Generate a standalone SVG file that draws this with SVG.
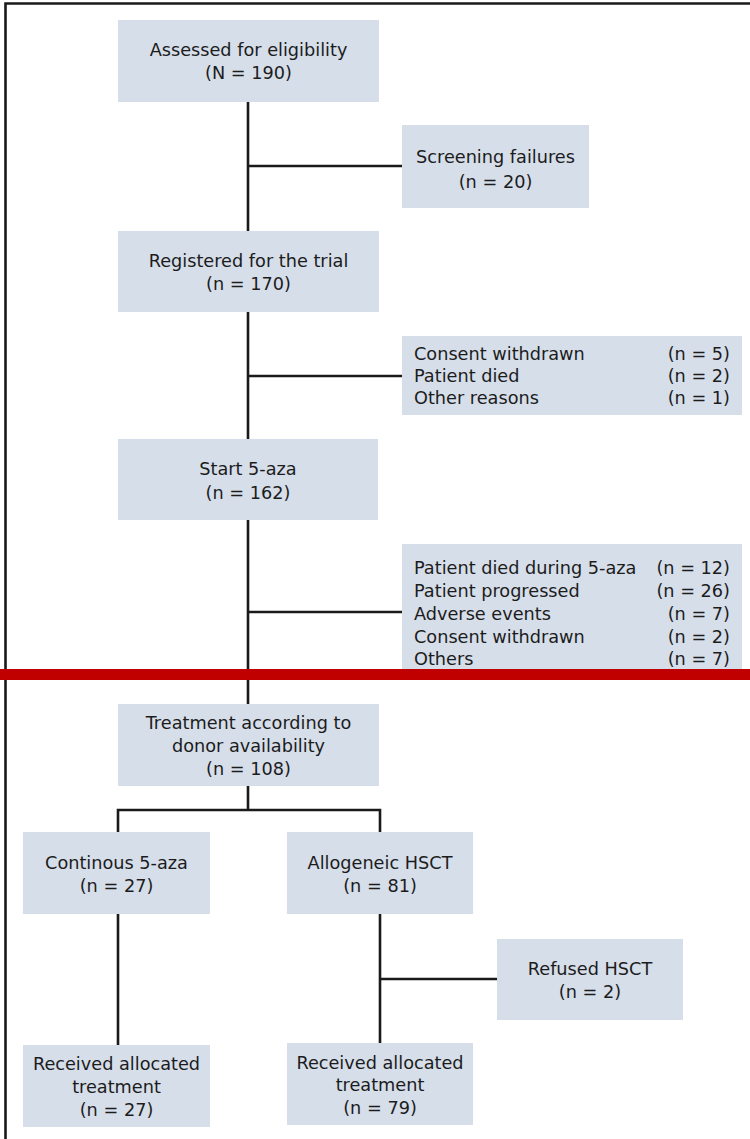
<svg xmlns="http://www.w3.org/2000/svg" width="750" height="1139" viewBox="0 0 750 1139">
  <style>
    .box { fill: #d6deea; }
    .t { font-family: "DejaVu Sans", "Liberation Sans", sans-serif; font-size: 17.7px; fill: #1c1c1c; }
    .c { text-anchor: middle; }
    .r { text-anchor: end; }
    .ln { stroke: #1a1a1a; stroke-width: 2.6; fill: none; }
  </style>
  <rect width="750" height="1139" fill="#ffffff"/>
  <!-- outer frame (top and left edges) -->
  <path class="ln" d="M5.5 1139 V3.5 H750" stroke-width="2.5"/>

  <g id="connectors">
    <path class="ln" d="M248 102 V231 M248 166 H402"/>
    <path class="ln" d="M248 312 V439 M248 376 H402"/>
    <path class="ln" d="M248 520 V704 M248 612 H402"/>
    <path class="ln" d="M248 786 V810 M118 832 V810 H380 V832"/>
    <path class="ln" d="M118 914 V1045"/>
    <path class="ln" d="M380 914 V1043 M380 979 H497"/>
  </g>

  <g id="assessed">
    <rect class="box" x="118" y="20" width="261" height="82"/>
    <text class="t c" x="248.5" y="56">Assessed for eligibility</text>
    <text class="t c" x="248.5" y="79">(N = 190)</text>
  </g>
  <g id="screening">
    <rect class="box" x="402" y="125" width="187" height="83"/>
    <text class="t c" x="495.5" y="162.5">Screening failures</text>
    <text class="t c" x="495.5" y="187.5">(n = 20)</text>
  </g>
  <g id="registered">
    <rect class="box" x="118" y="231" width="261" height="81"/>
    <text class="t c" x="248.5" y="266.5">Registered for the trial</text>
    <text class="t c" x="248.5" y="289.5">(n = 170)</text>
  </g>
  <g id="excluded-before-start">
    <rect class="box" x="402" y="336" width="340" height="79"/>
    <text class="t" x="414" y="359.5">Consent withdrawn</text>
    <text class="t r" x="730" y="359.5">(n = 5)</text>
    <text class="t" x="414" y="381.5">Patient died</text>
    <text class="t r" x="730" y="381.5">(n = 2)</text>
    <text class="t" x="414" y="403.5">Other reasons</text>
    <text class="t r" x="730" y="403.5">(n = 1)</text>
  </g>
  <g id="start-aza">
    <rect class="box" x="118" y="439" width="260" height="81"/>
    <text class="t c" x="248" y="474.5">Start 5-aza</text>
    <text class="t c" x="248" y="498.5">(n = 162)</text>
  </g>
  <g id="excluded-during-aza">
    <rect class="box" x="402" y="544" width="340" height="128"/>
    <text class="t" x="414" y="573.5">Patient died during 5-aza</text>
    <text class="t r" x="730" y="573.5">(n = 12)</text>
    <text class="t" x="414" y="596.5">Patient progressed</text>
    <text class="t r" x="730" y="596.5">(n = 26)</text>
    <text class="t" x="414" y="619.5">Adverse events</text>
    <text class="t r" x="730" y="619.5">(n = 7)</text>
    <text class="t" x="414" y="642.5">Consent withdrawn</text>
    <text class="t r" x="730" y="642.5">(n = 2)</text>
    <text class="t" x="414" y="664.5">Others</text>
    <text class="t r" x="730" y="664.5">(n = 7)</text>
  </g>

  <!-- red divider bar -->
  <rect x="0" y="669" width="750" height="11" fill="#c00000"/>

  <g id="treatment">
    <rect class="box" x="118" y="704" width="261" height="82"/>
    <text class="t c" x="248.5" y="728.5">Treatment according to</text>
    <text class="t c" x="248.5" y="751.5">donor availability</text>
    <text class="t c" x="248.5" y="774.5">(n = 108)</text>
  </g>
  <g id="continuous-aza">
    <rect class="box" x="23" y="832" width="187" height="82"/>
    <text class="t c" x="116.5" y="868.5">Continous 5-aza</text>
    <text class="t c" x="116.5" y="891.5">(n = 27)</text>
  </g>
  <g id="allo-hsct">
    <rect class="box" x="287" y="832" width="186" height="82"/>
    <text class="t c" x="380" y="868.5">Allogeneic HSCT</text>
    <text class="t c" x="380" y="891.5">(n = 81)</text>
  </g>
  <g id="refused-hsct">
    <rect class="box" x="497" y="939" width="186" height="81"/>
    <text class="t c" x="590" y="974.5">Refused HSCT</text>
    <text class="t c" x="590" y="997.5">(n = 2)</text>
  </g>
  <g id="received-aza">
    <rect class="box" x="23" y="1045" width="187" height="82"/>
    <text class="t c" x="116.5" y="1069.5">Received allocated</text>
    <text class="t c" x="116.5" y="1092.5">treatment</text>
    <text class="t c" x="116.5" y="1115.5">(n = 27)</text>
  </g>
  <g id="received-hsct">
    <rect class="box" x="287" y="1043" width="186" height="82"/>
    <text class="t c" x="380" y="1068.5">Received allocated</text>
    <text class="t c" x="380" y="1091">treatment</text>
    <text class="t c" x="380" y="1113.5">(n = 79)</text>
  </g>
</svg>
